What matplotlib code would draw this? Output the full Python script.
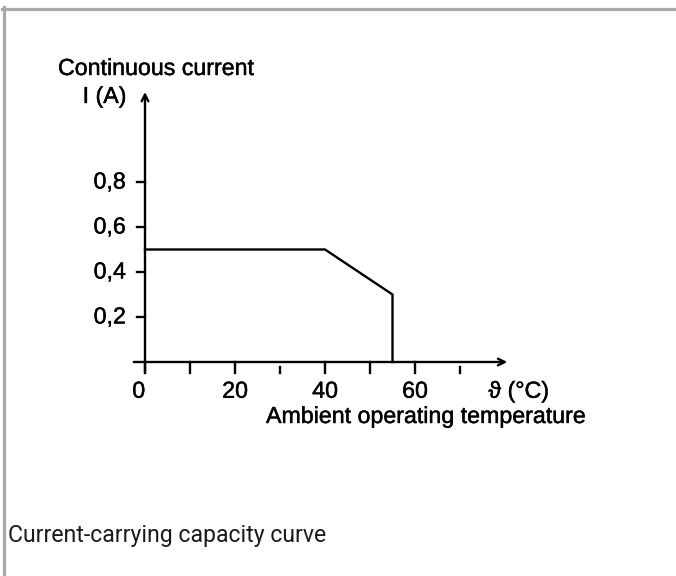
import matplotlib
matplotlib.use("Agg")
import matplotlib.pyplot as plt
from matplotlib.lines import Line2D
import matplotlib.patheffects as pe

# Data
temperature = [0, 40, 55, 55]          # °C
current = [0.5, 0.5, 0.3, 0.0]         # A
y_ticks = [0.2, 0.4, 0.6, 0.8]
y_tick_labels = ["0,2", "0,4", "0,6", "0,8"]
x_major_ticks = [0, 10, 20, 40, 50, 60]
x_minor_ticks = [30, 70]
x_tick_values = [0, 20, 40, 60]
x_tick_labels = ["0", "20", "40", "60"]

W, H = 676, 576
fig = plt.figure(figsize=(W / 100, H / 100), dpi=100)
fig.patch.set_facecolor("white")

FONT = "Liberation Sans"
FS = 16.7
heavy = [pe.withStroke(linewidth=0.3, foreground="black")]
tkw = dict(fontsize=FS, family=FONT, color="black", path_effects=heavy)

# axes placed in pixels
left_px, right_px = 145, 505
bottom_px, top_px = 362, 92
ax = fig.add_axes([left_px / W, 1 - bottom_px / H,
                   (right_px - left_px) / W, (bottom_px - top_px) / H])
ax.set_xlim(0, 80)
ax.set_ylim(0, 1.2)
ax.axis("off")

lw = 1.7
# axes with arrows
ax.annotate("", xy=(80.5, 0), xytext=(-2.5, 0), xycoords="data",
            arrowprops=dict(arrowstyle="->", lw=lw, color="black",
                            mutation_scale=12, shrinkA=0, shrinkB=0),
            annotation_clip=False)
ax.annotate("", xy=(0, 1.2), xytext=(0, -0.045), xycoords="data",
            arrowprops=dict(arrowstyle="->", lw=lw, color="black",
                            mutation_scale=12, shrinkA=0, shrinkB=0),
            annotation_clip=False)

# curve
ax.plot(temperature, current, color="black", lw=lw, solid_joinstyle="miter",
        clip_on=False)

# y ticks
for yv, lab in zip(y_ticks, y_tick_labels):
    ax.plot([-1.8, 0], [yv, yv], color="black", lw=lw, clip_on=False)
    ax.text(-4.3, yv, lab, ha="right", va="center", **tkw)

# x ticks
for xv in x_major_ticks:
    ax.plot([xv, xv], [0, -0.05], color="black", lw=lw, clip_on=False)
for xv in x_minor_ticks:
    ax.plot([xv, xv], [-0.02, -0.05], color="black", lw=lw, clip_on=False)
for xv, lab in zip(x_tick_values, x_tick_labels):
    off = -1.4 if xv == 0 else 0
    ax.text(xv + off, -0.13, lab, ha="center", va="center", **tkw)
ax.text(83.0, -0.13, "ϑ (°C)", ha="center", va="center", **tkw)

# axis titles (figure pixel coordinates)
def ftext(x, y, s, **kw):
    fig.text(x / W, 1 - y / H, s, **kw)

ftext(58, 75, "Continuous current", ha="left", va="baseline", **tkw)
ftext(126, 103, "I (A)", ha="right", va="baseline", **tkw)
ftext(266, 423, "Ambient operating temperature", ha="left", va="baseline",
      **tkw)

# caption
ftext(8, 542, "Current-carrying capacity curve", ha="left", va="baseline",
      fontsize=16.6, family="Roboto", color="#1a1a1a")

# gray frame (top and left)
gray = "#a7a9ac"
fig.add_artist(Line2D([2 / W, 1], [1 - 8.5 / H, 1 - 8.5 / H],
                      transform=fig.transFigure, color=gray, lw=2.3))
fig.add_artist(Line2D([3.5 / W, 3.5 / W], [0, 1 - 7 / H],
                      transform=fig.transFigure, color=gray, lw=2.3))

fig.savefig("out.png", dpi=100, facecolor="white")
